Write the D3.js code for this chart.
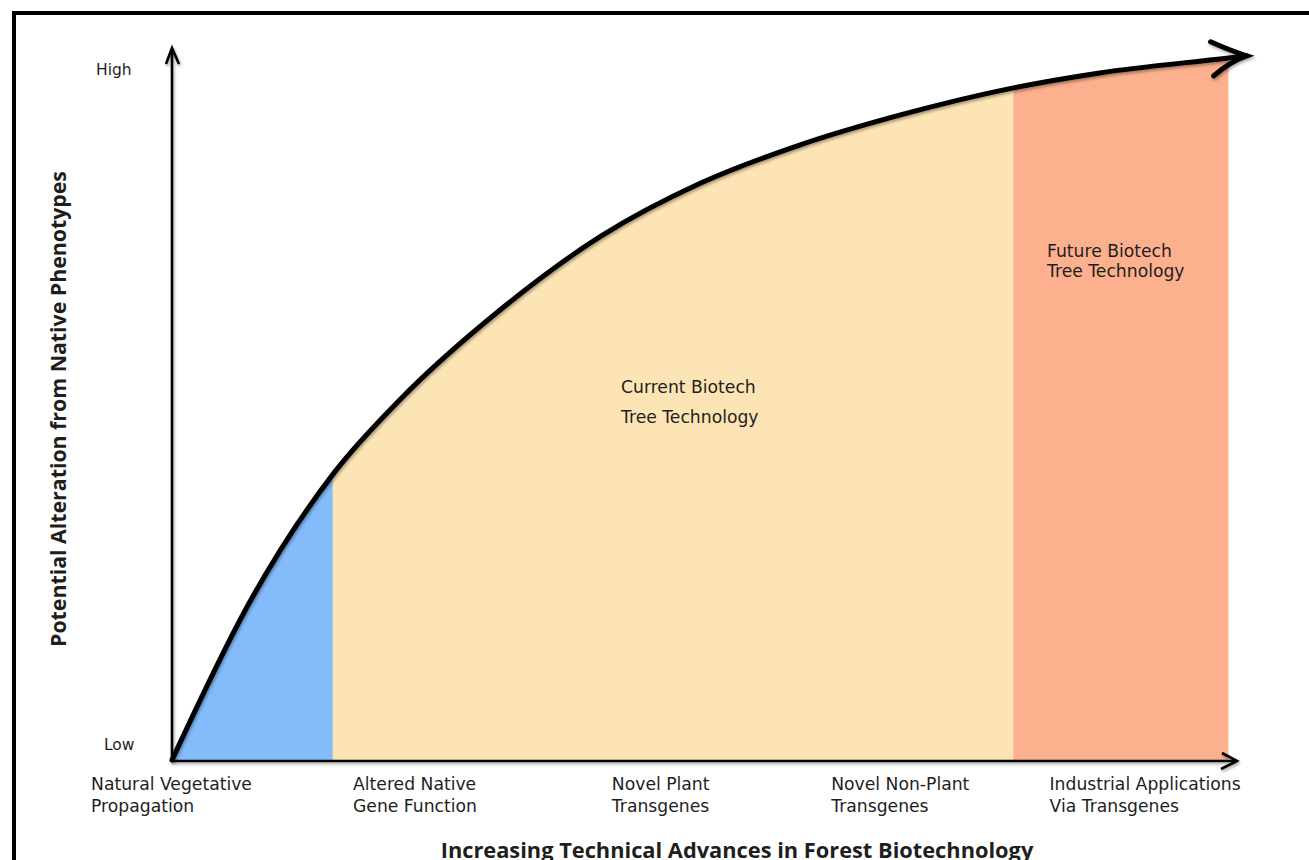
<!DOCTYPE html>
<html>
<head>
<meta charset="utf-8">
<script src="https://cdn.jsdelivr.net/npm/d3@7"></script>
<style>
  html, body { margin: 0; padding: 0; background: #fff; }
  svg { display: block; }
</style>
</head>
<body>
<svg id="chart" width="1309" height="860"></svg>
<script>
// ---- data ----
const curveX = [0, 7.3, 15.3, 21.4, 30.8, 40.2, 49.6, 59.0, 68.4, 79.0, 87.1, 99.2, 100.9];
const curveY = [0, 22.2, 40.5, 50.6, 63.2, 73.5, 81.0, 86.4, 90.6, 94.4, 96.5, 98.6, 98.9];
const bandNames = ["Natural", "Current", "Future"];
const bandStart = [0, 15.1, 79.0];
const bandEnd = [15.1, 79.0, 99.2];
const categories = [
  ["Natural Vegetative", "Propagation"],
  ["Altered Native", "Gene Function"],
  ["Novel Plant", "Transgenes"],
  ["Novel Non-Plant", "Transgenes"],
  ["Industrial Applications", "Via Transgenes"]
];
const categoryPos = [-7.6, 17.0, 41.3, 61.9, 82.4];
const yTickLabels = ["Low", "High"];
const yTickValues = [2.1, 96.9];
const xTitle = "Increasing Technical Advances in Forest Biotechnology";
const yTitle = "Potential Alteration from Native Phenotypes";
const bandLabels = [null, ["Current Biotech", "Tree Technology"], ["Future Biotech", "Tree Technology"]];

// ---- styles ----
const bandColors = ["#84bcfb", "#fde4b4", "#fdb08d"];
const textColor = "#1e1e1e";
const labelFont = "'DejaVu Sans', sans-serif";
const titleFont = "'Open Sans', sans-serif";

const svg = d3.select("#chart");
const x = d3.scaleLinear().domain([0, 100]).range([172, 1237]);
const y = d3.scaleLinear().domain([0, 100]).range([760, 48]);

const pts = curveX.map((v, i) => [v, curveY[i]]);

const defs = svg.append("defs");
const f = defs.append("filter").attr("id", "shadow").attr("x", "-10%").attr("y", "-10%").attr("width", "120%").attr("height", "120%");
f.append("feDropShadow").attr("dx", 1).attr("dy", 2).attr("stdDeviation", 1.6).attr("flood-color", "#000").attr("flood-opacity", 0.35);

bandNames.forEach((n, i) => {
  defs.append("clipPath").attr("id", "clip" + i)
    .append("rect")
    .attr("x", x(bandStart[i]))
    .attr("y", 0)
    .attr("width", x(bandEnd[i]) - x(bandStart[i]))
    .attr("height", y(0) + 2);
});

// border
svg.append("rect")
  .attr("x", 14).attr("y", 13)
  .attr("width", 1400).attr("height", 1000)
  .attr("fill", "none").attr("stroke", "#000").attr("stroke-width", 4);

const area = d3.area().x(d => x(d[0])).y0(y(0)).y1(d => y(d[1])).curve(d3.curveMonotoneX);
bandNames.forEach((n, i) => {
  svg.append("path")
    .datum(pts)
    .attr("d", area)
    .attr("fill", bandColors[i])
    .attr("clip-path", "url(#clip" + i + ")");
});

// axes
const axisG = svg.append("g").attr("filter", "url(#shadow)");
axisG.append("line")
  .attr("x1", x(0)).attr("y1", y(0) + 1)
  .attr("x2", x(100) - 2).attr("y2", y(0) + 1)
  .attr("stroke", "#000").attr("stroke-width", 2.6);
axisG.append("path")
  .attr("d", `M${x(100) - 15},${y(0) - 7} L${x(100)},${y(0) + 1} L${x(100) - 16},${y(0) + 9}`)
  .attr("fill", "none").attr("stroke", "#000").attr("stroke-width", 2.6).attr("stroke-linejoin", "miter");
axisG.append("line")
  .attr("x1", x(0)).attr("y1", y(0) + 1)
  .attr("x2", x(0)).attr("y2", y(100) + 2)
  .attr("stroke", "#000").attr("stroke-width", 2.6);
axisG.append("path")
  .attr("d", `M${x(0) - 6},${y(100) + 16} L${x(0)},${y(100)} L${x(0) + 7},${y(100) + 16}`)
  .attr("fill", "none").attr("stroke", "#000").attr("stroke-width", 2.6).attr("stroke-linejoin", "miter");

// curve
const line = d3.line().x(d => x(d[0])).y(d => y(d[1])).curve(d3.curveMonotoneX);
const cg = svg.append("g").attr("filter", "url(#shadow)");
cg.append("path")
  .datum(pts)
  .attr("d", line)
  .attr("fill", "none").attr("stroke", "#000").attr("stroke-width", 5).attr("stroke-linecap", "round");
const tip = pts[pts.length - 1];
const tx = x(tip[0]), ty = y(tip[1]);
cg.append("path")
  .attr("d", `M${tx - 36},${ty - 14} Q${tx - 16},${ty - 5} ${tx},${ty} Q${tx - 17},${ty + 6} ${tx - 33},${ty + 20}`)
  .attr("fill", "none").attr("stroke", "#000").attr("stroke-width", 5).attr("stroke-linejoin", "miter").attr("stroke-linecap", "round");

// y tick labels
svg.selectAll(".ytick").data(yTickLabels).enter().append("text")
  .attr("x", (d, i) => i === 0 ? 104 : 96)
  .attr("y", (d, i) => y(yTickValues[i]))
  .attr("dy", "0.35em")
  .attr("font-family", labelFont).attr("font-size", 15.5).attr("fill", textColor)
  .text(d => d);

// category labels
categories.forEach((c, i) => {
  const t = svg.append("text")
    .attr("font-family", labelFont).attr("font-size", 17.2).attr("fill", textColor);
  c.forEach((ln, j) => {
    t.append("tspan").attr("x", x(categoryPos[i])).attr("y", 790 + j * 22).text(ln);
  });
});

// band labels
svg.append("text").attr("font-family", labelFont).attr("font-size", 17.2).attr("fill", textColor)
  .selectAll("tspan").data(bandLabels[1]).enter().append("tspan")
  .attr("x", 621).attr("y", (d, j) => 393 + j * 30).text(d => d);
svg.append("text").attr("font-family", labelFont).attr("font-size", 17.2).attr("fill", textColor)
  .selectAll("tspan").data(bandLabels[2]).enter().append("tspan")
  .attr("x", 1047).attr("y", (d, j) => 257 + j * 20).text(d => d);

// titles
svg.append("text")
  .attr("x", 737).attr("y", 858)
  .attr("text-anchor", "middle")
  .attr("font-family", titleFont).attr("font-weight", 700).attr("font-size", 21.8).attr("fill", textColor)
  .text(xTitle);
svg.append("text")
  .attr("transform", "translate(66,409) rotate(-90)")
  .attr("text-anchor", "middle")
  .attr("font-family", titleFont).attr("font-weight", 700).attr("font-size", 21.3).attr("fill", textColor)
  .text(yTitle);
</script>
</body>
</html>
